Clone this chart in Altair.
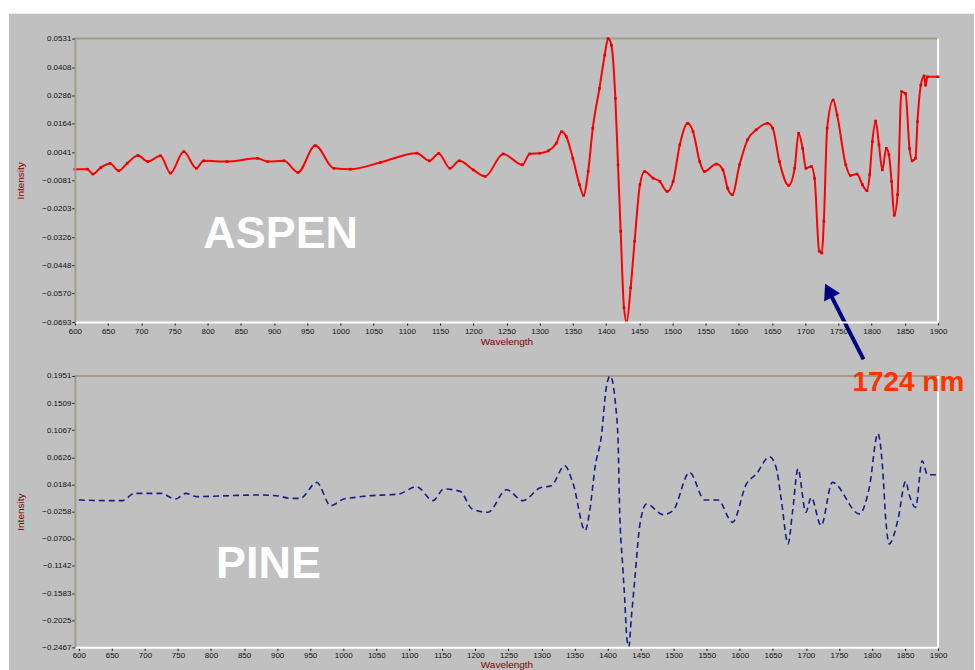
import altair as alt
import pandas as pd

# ---------------- data ----------------
aspen_wl = [600, 619, 627, 639, 653, 666, 679, 695, 710, 729, 744, 764, 783, 794, 829, 875, 890, 915, 936, 962,
            990, 1015, 1060, 1115, 1134, 1148, 1165, 1179, 1200, 1218, 1245, 1274, 1285, 1300, 1313, 1325, 1333,
            1340, 1350, 1360, 1366, 1373, 1380, 1390, 1398, 1403, 1408, 1414, 1418, 1422, 1427, 1431, 1437, 1443,
            1451, 1458, 1471, 1481, 1492, 1501, 1511, 1523, 1531, 1541, 1548, 1566, 1576, 1583, 1590, 1601, 1613,
            1626, 1643, 1651, 1661, 1675, 1684, 1690, 1696, 1701, 1709, 1714, 1721, 1725, 1728, 1733, 1742, 1748,
            1761, 1768, 1778, 1786, 1793, 1797, 1801, 1806, 1811, 1816, 1822, 1826, 1830, 1834, 1839, 1845, 1851,
            1857, 1861, 1866, 1869, 1874, 1879, 1881, 1884, 1900]
aspen_val = [-0.0033, -0.0033, -0.0054, -0.0026, -0.0008, -0.0040, -0.0007, 0.0026, 0.0000, 0.0025, -0.0050,
             0.0043, -0.0029, 0.0003, 0.0000, 0.0014, 0.0000, 0.0003, -0.0047, 0.0069, -0.0029, -0.0033, -0.0004,
             0.0036, 0.0003, 0.0035, -0.0029, 0.0003, -0.0036, -0.0064, 0.0033, -0.0014, 0.0033, 0.0036, 0.0046,
             0.0079, 0.0129, 0.0108, 0.0014, -0.0100, -0.0146, -0.0043, 0.0144, 0.0316, 0.0460, 0.0531, 0.0503,
             0.0273, -0.0014, -0.0301, -0.0631, -0.0693, -0.0545, -0.0344, -0.0100, -0.0043, -0.0072, -0.0086,
             -0.0129, -0.0086, 0.0072, 0.0165, 0.0129, 0.0000, -0.0043, -0.0011, -0.0036, -0.0115, -0.0143, -0.0014,
             0.0094, 0.0137, 0.0165, 0.0144, 0.0000, -0.0103, -0.0029, 0.0122, 0.0057, -0.0029, -0.0021, -0.0072,
             -0.0387, -0.0395, -0.0258, 0.0144, 0.0266, 0.0201, -0.0014, -0.0060, -0.0054, -0.0100, -0.0126,
             -0.0057, 0.0086, 0.0175, 0.0072, -0.0036, 0.0057, 0.0029, -0.0086, -0.0232, -0.0143, 0.0302, 0.0294,
             0.0057, 0.0003, 0.0014, 0.0172, 0.0330, 0.0370, 0.0330, 0.0366, 0.0366]

pine_wl = [600, 643, 666, 684, 701, 724, 746, 762, 779, 814, 875, 902, 920, 935, 960, 981, 1001, 1018, 1036, 1084,
           1111, 1136, 1152, 1177, 1195, 1219, 1247, 1272, 1298, 1315, 1335, 1348, 1366, 1373, 1381, 1391, 1398,
           1404, 1412, 1416, 1418, 1423, 1426, 1429, 1432, 1436, 1441, 1449, 1459, 1484, 1499, 1524, 1547, 1567,
           1589, 1610, 1625, 1645, 1655, 1663, 1673, 1680, 1688, 1700, 1708, 1723, 1740, 1781, 1796, 1809, 1816,
           1821, 1826, 1839, 1851, 1856, 1866, 1876, 1884, 1900]
pine_val = [-0.0068, -0.0079, -0.0079, 0.0039, 0.0039, 0.0039, -0.0052, 0.0039, -0.0014, -0.0003, 0.0013, -0.0003,
            -0.0042, -0.0042, 0.0218, -0.0161, -0.0052, -0.0026, -0.0003, 0.0029, 0.0148, -0.0079, 0.0111, 0.0072,
            -0.0214, -0.0269, 0.0099, -0.0079, 0.0130, 0.0164, 0.0489, 0.0192, -0.0567, -0.0242, 0.0461, 0.1004,
            0.1761, 0.1951, 0.1491, 0.0842, -0.0133, -0.1163, -0.1704, -0.2300, -0.2462, -0.1975, -0.1379, -0.0458,
            -0.0133, -0.0307, -0.0242, 0.0380, -0.0068, -0.0068, -0.0432, 0.0192, 0.0354, 0.0635, 0.0461, -0.0079,
            -0.0783, -0.0242, 0.0436, -0.0269, -0.0026, -0.0485, 0.0218, -0.0295, 0.0137, 0.1014, 0.0461, -0.0404,
            -0.0783, -0.0404, 0.0234, 0.0029, -0.0188, 0.0570, 0.0343, 0.0343]

x_ticks = list(range(600, 1901, 50))
aspen_y_ticks = [0.0531, 0.0408, 0.0286, 0.0164, 0.0041, -0.0081, -0.0203, -0.0326, -0.0448, -0.0570, -0.0693]
pine_y_ticks = [0.1951, 0.1509, 0.1067, 0.0626, 0.0184, -0.0258, -0.0700, -0.1142, -0.1583, -0.2025, -0.2467]

# annotations (data coordinates)
aspen_label = {"Wavelength": [910], "Intensity": [-0.0373], "text": ["ASPEN"]}
pine_label = {"Wavelength": [887], "Intensity": [-0.1346], "text": ["PINE"]}
nm_label = {"Wavelength": [1855], "Intensity": [0.1707], "text": ["1724 nm"]}
arrow_wl = [1787.7, 1735.1]
arrow_val = [-0.0854, -0.0557]

# ---------------- styling ----------------
FONT = "Liberation Sans"
BG = "#C0C0C0"
TAN = "#A29D8A"
TITLE_RED = "#800000"
W, H_TOP, H_BOT = 865, 284, 272

aspen_df = pd.DataFrame({"Wavelength": aspen_wl, "Intensity": aspen_val})
pine_df = pd.DataFrame({"Wavelength": pine_wl, "Intensity": pine_val})


def x_axis(lab_pad, title_pad):
    return alt.Axis(values=x_ticks, format="d", title="Wavelength", labelFont=FONT, labelFontSize=8,
                    labelColor="#111111", labelAngle=0, labelFlush=False, labelOverlap=False,
                    labelPadding=lab_pad, tickColor="#111111", tickSize=3, domainColor="white", domainWidth=2,
                    grid=False, titleFont=FONT, titleFontSize=10, titleFontWeight="normal", titleColor=TITLE_RED,
                    titlePadding=title_pad, zindex=1)


def y_axis(ticks):
    return alt.Axis(values=ticks, format=".4f", title="Intensity", labelFont=FONT, labelFontSize=8,
                    labelColor="#111111", labelOverlap=False, labelPadding=1, tickColor="#111111", tickSize=3,
                    domainColor=TAN, domainWidth=2, grid=False, titleFont=FONT, titleFontSize=10,
                    titleFontWeight="normal", titleColor=TITLE_RED, titlePadding=16, zindex=1)


one = alt.Data(values=[{}])

# ---------------- top panel (ASPEN) ----------------
xs_top = alt.Scale(domain=[600, 1900], nice=False, zero=False)
ys_top = alt.Scale(domain=[-0.0693, 0.0531], nice=False, zero=False)
xa_top = x_axis(2, 2)
ya_top = y_axis(aspen_y_ticks)
X_top = alt.X("Wavelength:Q", scale=xs_top, axis=xa_top)
Y_top = alt.Y("Intensity:Q", scale=ys_top, axis=ya_top)

top_bg = alt.Chart(one).mark_rect(color=BG).encode(
    x=alt.value(-66), x2=alt.value(901), y=alt.value(-25), y2=alt.value(324))
top_border = alt.Chart(one).mark_rule(color=TAN, strokeWidth=2).encode(
    x=alt.value(0), x2=alt.value(W), y=alt.value(0))
top_right = alt.Chart(one).mark_rule(color="white", strokeWidth=2).encode(
    x=alt.value(W), y=alt.value(0), y2=alt.value(H_TOP))

aspen_line = alt.Chart(aspen_df).mark_line(color="#FF0000", strokeWidth=2, interpolate="monotone").encode(
    x=X_top, y=Y_top)
aspen_pts = alt.Chart(aspen_df).mark_point(shape="square", filled=True, size=7, color="#E00000", opacity=1).encode(
    x=X_top, y=Y_top)
aspen_text = alt.Chart(pd.DataFrame(aspen_label)).mark_text(
    font=FONT, fontSize=45, fontWeight="bold", color="white", align="center", baseline="alphabetic").encode(
    x=X_top, y=Y_top, text="text:N")
arrow_line = alt.Chart(pd.DataFrame({"Wavelength": arrow_wl, "Intensity": arrow_val})).mark_line(
    color="#000080", strokeWidth=4).encode(x=X_top, y=Y_top)
arrow_head = alt.Chart(pd.DataFrame({"Wavelength": arrow_wl[1:], "Intensity": arrow_val[1:]})).mark_point(
    shape="triangle-up", filled=True, size=320, angle=333, color="#000080", opacity=1).encode(
    x=X_top, y=Y_top)

top = alt.layer(top_bg, top_border, top_right, aspen_line, aspen_pts, aspen_text, arrow_line, arrow_head).properties(
    width=W, height=H_TOP)

# ---------------- bottom panel (PINE) ----------------
xs_bot = alt.Scale(domain=[594, 1900], nice=False, zero=False)
ys_bot = alt.Scale(domain=[-0.2467, 0.1951], nice=False, zero=False)
X_bot = alt.X("Wavelength:Q", scale=xs_bot, axis=x_axis(1, 0))
Y_bot = alt.Y("Intensity:Q", scale=ys_bot, axis=y_axis(pine_y_ticks))

bot_bg = alt.Chart(one).mark_rect(color=BG).encode(
    x=alt.value(-66), x2=alt.value(901), y=alt.value(-14), y2=alt.value(295))
bot_border = alt.Chart(one).mark_rule(color=TAN, strokeWidth=2).encode(
    x=alt.value(0), x2=alt.value(W), y=alt.value(0))
bot_right = alt.Chart(one).mark_rule(color="white", strokeWidth=2).encode(
    x=alt.value(W), y=alt.value(0), y2=alt.value(H_BOT))

pine_line = alt.Chart(pine_df).mark_line(color="#1C1C8A", strokeWidth=1.6, strokeDash=[6, 4],
                                         interpolate="monotone").encode(x=X_bot, y=Y_bot)
pine_text = alt.Chart(pd.DataFrame(pine_label)).mark_text(
    font=FONT, fontSize=45, fontWeight="bold", color="white", align="center", baseline="alphabetic").encode(
    x=X_bot, y=Y_bot, text="text:N")
nm_text = alt.Chart(pd.DataFrame(nm_label)).mark_text(
    font=FONT, fontSize=28, fontWeight="bold", color="#FF3300", align="center", baseline="alphabetic").encode(
    x=X_bot, y=Y_bot, text="text:N")

bottom = alt.layer(bot_bg, bot_border, bot_right, pine_line, pine_text, nm_text).properties(
    width=W, height=H_BOT)

chart = alt.vconcat(top, bottom, spacing=54, bounds="flush").properties(
    background="white", padding={"left": 8, "top": 12, "right": 0, "bottom": 0}
).configure_view(stroke="transparent").configure_axis(labelOverlap=False)

chart.save("out.html", embed_options={"renderer": "svg", "actions": False})
